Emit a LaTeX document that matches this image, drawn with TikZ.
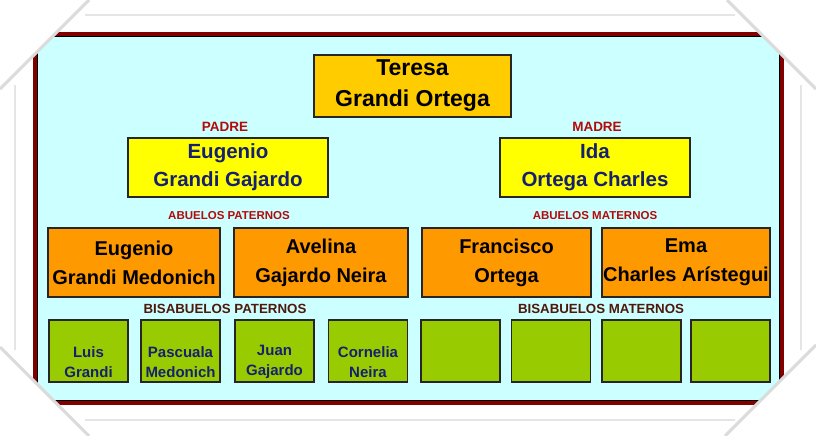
\documentclass[tikz,border=0pt]{standalone}
\usepackage{fontspec}
\setmainfont{Liberation Sans}

\definecolor{cielo}{RGB}{204,255,255}
\definecolor{granate}{RGB}{128,0,0}
\definecolor{oro}{RGB}{255,204,0}
\definecolor{amarillo}{RGB}{255,255,0}
\definecolor{naranja}{RGB}{255,153,0}
\definecolor{verde}{RGB}{153,204,0}
\definecolor{marino}{RGB}{22,32,112}
\definecolor{rojizo}{RGB}{180,10,10}
\definecolor{pardo}{RGB}{78,24,10}

\tikzset{
  caja/.style={draw=black!85, line width=1.4pt, fill=#1, inner sep=0pt, align=center,
    append after command={\pgfextra{\draw[black!75, line width=0.9pt]
      ([shift={(2.6pt,-2.6pt)}]\tikzlastnode.north west) rectangle
      ([shift={(-2.6pt,2.6pt)}]\tikzlastnode.south east);}}},
  nieta/.style={caja=oro, minimum width=197pt, minimum height=62pt,
    font=\bfseries\fontsize{23}{31}\selectfont},
  progenitor/.style={caja=amarillo, minimum height=59pt, text=marino,
    font=\bfseries\fontsize{20.5}{28}\selectfont},
  abuelo/.style={caja=naranja, minimum height=69pt,
    font=\bfseries\fontsize{20}{29}\selectfont},
  bisabuelo/.style={caja=verde, minimum width=79pt, minimum height=62pt},
  nombre/.style={text=marino, align=center, inner sep=0pt,
    font=\bfseries\fontsize{15}{20}\selectfont},
  rotulo/.style={text=rojizo, inner sep=0pt, font=\bfseries\fontsize{13.5}{16}\selectfont},
  rotulochico/.style={text=rojizo, inner sep=0pt, font=\bfseries\fontsize{11.5}{14}\selectfont},
  rotulopardo/.style={text=pardo, inner sep=0pt, font=\bfseries\fontsize{13.3}{16}\selectfont},
  sombra/.style={black!14, line width=3pt}
}

\begin{document}
\begin{tikzpicture}[x=1pt, y=-1pt]
    \useasboundingbox (0,0) rectangle (816,436);
    \fill[white] (0,0) rectangle (816,436);

    % Paper edges
    \draw[black!10, line width=1.5pt] (85,15) -- (735,15);
    \draw[black!10, line width=1.5pt] (85,420) -- (735,420);
    \draw[black!10, line width=1.5pt] (15,85) -- (15,350);
    \draw[black!10, line width=1.5pt] (801,85) -- (801,350);

    % Panel
    \fill[cielo] (35,34) rectangle (782,403);
    \draw[granate, line width=4pt] (35,34) rectangle (782,403);
    \draw[black, line width=0.8pt] (37.5,36.5) rectangle (779.5,400.5);

    % Curled corners
    \fill[white] (0,0) -- (89,0) -- (0,89) -- cycle;
    \fill[white] (816,0) -- (727,0) -- (816,89) -- cycle;
    \fill[white] (0,436) -- (0,347) -- (89,436) -- cycle;
    \fill[white] (816,436) -- (816,345) -- (725,436) -- cycle;
    \draw[sombra] (89,0) -- (0,89);
    \draw[sombra] (727,0) -- (816,89);
    \draw[sombra] (0,347) -- (89,436);
    \draw[sombra] (816,345) -- (725,436);

    % Granddaughter
    \node[nieta] (teresa) at (412.5,86) {Teresa\\Grandi Ortega};

    % Parents
    \node[rotulo] (lpadre) at (225,127) {PADRE};
    \node[rotulo] (lmadre) at (597,127) {MADRE};
    \node[progenitor, minimum width=200pt] (padre) at (228,167.5) {Eugenio\\Grandi Gajardo};
    \node[progenitor, minimum width=190pt] (madre) at (595,167.5) {Ida\\Ortega Charles};

    % Grandparents
    \node[rotulochico] (lapat) at (229,215.5) {ABUELOS PATERNOS};
    \node[rotulochico] (lamat) at (595,216) {ABUELOS MATERNOS};
    \node[abuelo, minimum width=172pt] (abp1) at (134,262.5) {Eugenio\\Grandi Medonich};
    \node[abuelo, minimum width=174pt] (abp2) at (321,262.5) {Avelina\\Gajardo Neira};
    \node[abuelo, minimum width=169pt] (abm1) at (506.5,262.5) {Francisco\\Ortega};
    \node[abuelo, minimum width=168pt] (abm2) at (686,262.5) {Ema\\Charles Arístegui};

    % Great-grandparents
    \node[rotulopardo] (lbpat) at (225,309) {BISABUELOS PATERNOS};
    \node[rotulopardo] (lbmat) at (601,309) {BISABUELOS MATERNOS};
    \node[bisabuelo] (bp1) at (88.5,351) {};
    \node[bisabuelo] (bp2) at (180.5,351) {};
    \node[bisabuelo] (bp3) at (274.5,351) {};
    \node[bisabuelo] (bp4) at (368,351) {};
    \node[bisabuelo] (bm1) at (460.5,351) {};
    \node[bisabuelo] (bm2) at (551,351) {};
    \node[bisabuelo] (bm3) at (641.5,351) {};
    \node[bisabuelo] (bm4) at (730.5,351) {};
    \node[nombre] (nbp1) at ([yshift=-11pt]bp1.center) {Luis\\Grandi};
    \node[nombre] (nbp2) at ([yshift=-11pt]bp2.center) {Pascuala\\Medonich};
    \node[nombre] (nbp3) at ([yshift=-11pt]bp3.center) {Juan\\Gajardo};
    \node[nombre] (nbp4) at ([yshift=-11pt]bp4.center) {Cornelia\\Neira};
\end{tikzpicture}
\end{document}
